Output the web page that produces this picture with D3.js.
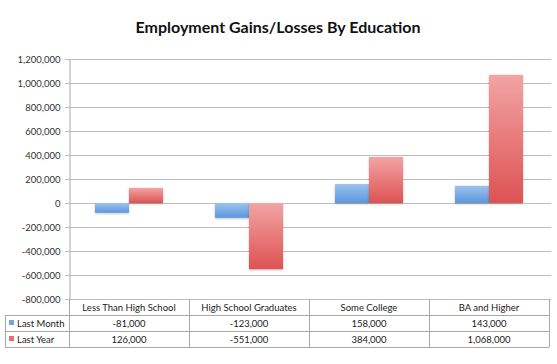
<html>
<head>
<meta charset="utf-8">
<title>Employment Gains/Losses By Education</title>
<style>
  body { margin: 0; background: #fff; }
  text { font-family: Lato, "Open Sans", sans-serif; }
</style>
</head>
<body>
<div id="svghere"></div>
<script src="https://d3js.org/d3.v7.min.js"></script>
<script>
var categories = ["Less Than High School", "High School Graduates", "Some College", "BA and Higher"];
var seriesNames = ["Last Month", "Last Year"];
var lastMonth = [-81000, -123000, 158000, 143000];
var lastYear = [126000, -551000, 384000, 1068000];
var tickValues = [-800000, -600000, -400000, -200000, 0, 200000, 400000, 600000, 800000, 1000000, 1200000];

var width = 557, height = 364;
var mLeft = 69, mRight = 549, mTop = 59, mBottom = 299;
var rowH = 16;

var svg = d3.select("#svghere")
    .append("svg")
    .attr("width", width)
    .attr("height", height);

var defs = svg.append("defs");
function grad(id, c1, c2) {
    var g = defs.append("linearGradient").attr("id", id)
        .attr("x1", 0).attr("y1", 0).attr("x2", 0).attr("y2", 1);
    g.append("stop").attr("offset", "0%").attr("stop-color", c1);
    g.append("stop").attr("offset", "100%").attr("stop-color", c2);
}
grad("gBlue", "#9cc3ee", "#5b97de");
grad("gRed", "#f2a4a4", "#de5252");
var fills = ["url(#gBlue)", "url(#gRed)"];
var swatch = ["#6fa3e2", "#e27373"];

// plain hyphen for negatives, like the original
var fmt = function(v) { return d3.format(",")(v).replace("\u2212", "-"); };

var x = d3.scaleBand().domain(categories).range([mLeft, mRight]);
var xs = d3.scaleBand().domain(seriesNames).range([0, x.bandwidth()]).paddingInner(0).paddingOuter(0.765);
var y = d3.scaleLinear().domain([-800000, 1200000]).range([mBottom, mTop]);

svg.append("text")
    .attr("x", 278).attr("y", 33)
    .attr("text-anchor", "middle")
    .style("font-size", "16px").style("font-weight", "bold").attr("fill", "#111")
    .text("Employment Gains/Losses By Education");

// grid
svg.append("g").selectAll("line").data(tickValues).enter().append("line")
    .attr("x1", mLeft - 4).attr("x2", mRight + 2)
    .attr("y1", function(d) { return Math.round(y(d)) + 0.5; })
    .attr("y2", function(d) { return Math.round(y(d)) + 0.5; })
    .attr("stroke", "#bdbdbd").attr("stroke-width", 1);

var yAxis = d3.axisLeft(y).tickValues(tickValues).tickSize(0).tickPadding(9)
    .tickFormat(fmt);
var ya = svg.append("g").attr("transform", "translate(" + (mLeft + 0.5) + ",0)").call(yAxis);
ya.select(".domain").attr("stroke", "#a8a8a8");
ya.selectAll("text").style("font-size", "9.5px").attr("fill", "#333")
    .style("font-family", "Lato, sans-serif");

// bars
var data = [];
categories.forEach(function(c, i) {
    data.push({ c: c, s: 0, v: lastMonth[i] });
    data.push({ c: c, s: 1, v: lastYear[i] });
});
svg.append("g").selectAll("rect").data(data).enter().append("rect")
    .attr("x", function(d) { return x(d.c) + xs(seriesNames[d.s]); })
    .attr("width", xs.bandwidth())
    .attr("y", function(d) { return Math.min(y(d.v), y(0)); })
    .attr("height", function(d) { return Math.abs(y(d.v) - y(0)); })
    .attr("fill", function(d) { return fills[d.s]; })
    .style("filter", "drop-shadow(0px 1px 1px rgba(0,0,0,0.25))");

// data table
var tbl = svg.append("g");
var lineCol = "#a8a8a8";
var t0 = mBottom, t1 = mBottom + rowH, t2 = mBottom + 2 * rowH, t3 = mBottom + 3 * rowH;
[t1, t2, t3].forEach(function(yy) {
    tbl.append("line").attr("x1", 5).attr("x2", mRight).attr("y1", yy + 0.5).attr("y2", yy + 0.5)
        .attr("stroke", lineCol);
});
tbl.append("line").attr("x1", 5.5).attr("x2", 5.5).attr("y1", t1).attr("y2", t3).attr("stroke", lineCol);
tbl.append("line").attr("x1", mRight + 0.5).attr("x2", mRight + 0.5).attr("y1", t0).attr("y2", t3).attr("stroke", lineCol);
categories.forEach(function(c) {
    tbl.append("line").attr("x1", x(c) + 0.5).attr("x2", x(c) + 0.5).attr("y1", t0).attr("y2", t3).attr("stroke", lineCol);
    tbl.append("text").attr("x", x(c) + x.bandwidth() / 2).attr("y", t0 + 12)
        .attr("text-anchor", "middle").style("font-size", "9.5px").attr("fill", "#222").text(c);
});
[lastMonth, lastYear].forEach(function(vals, s) {
    var ry = mBottom + rowH * (s + 1);
    tbl.append("rect").attr("x", 9).attr("y", ry + 5).attr("width", 5).attr("height", 5).attr("fill", swatch[s]);
    tbl.append("text").attr("x", 17).attr("y", ry + 12).style("font-size", "9.5px").attr("fill", "#222").text(seriesNames[s]);
    vals.forEach(function(v, i) {
        tbl.append("text").attr("x", x(categories[i]) + x.bandwidth() / 2).attr("y", ry + 12)
            .attr("text-anchor", "middle").style("font-size", "9.5px").attr("fill", "#222").text(fmt(v));
    });
});
</script>
</body>
</html>
